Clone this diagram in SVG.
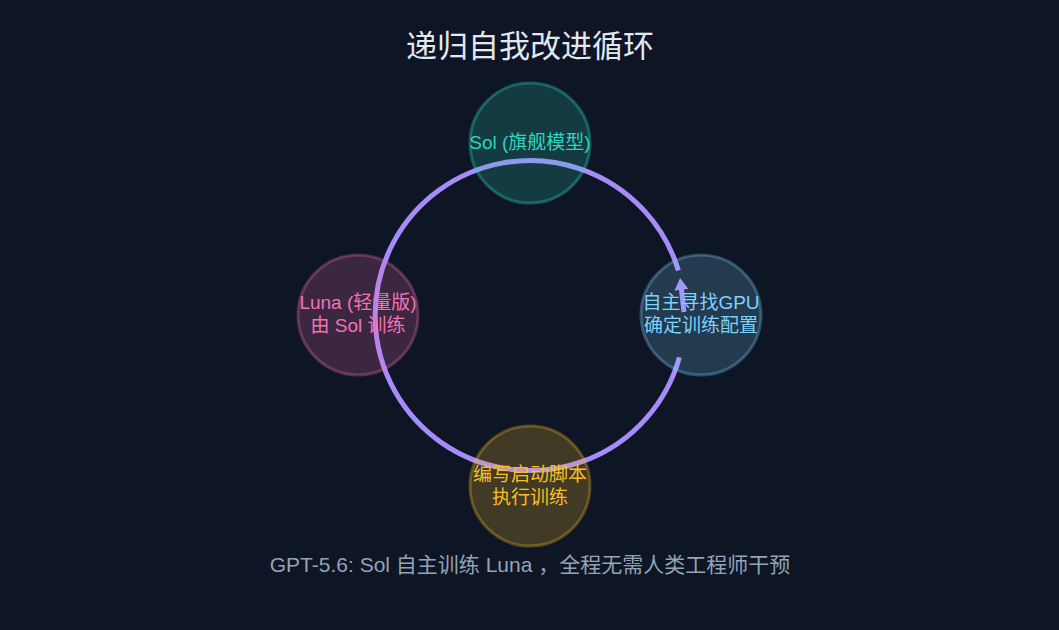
<svg xmlns="http://www.w3.org/2000/svg" width="1059" height="630" viewBox="0 0 1059 630">
<style>
text{font-family:"Liberation Sans","Noto Sans CJK SC",sans-serif;text-anchor:middle}
.t{font-size:31px;fill:#e2e8f0}
.s{font-size:21px;fill:#94a3b8}
.n{font-size:19px}
.c{stroke-width:3}
</style>
<defs>
<marker id="ah" markerWidth="12" markerHeight="14" refX="4" refY="7" orient="auto" markerUnits="userSpaceOnUse" viewBox="0 0 12 14">
<path d="M0,0 L12,7 L0,14 z" fill="#a78bfa"/>
</marker>
</defs>
<rect width="1059" height="630" fill="#0e1524"/>
<text class="t" x="530" y="57">递归自我改进循环</text>
<g id="connectors" fill="none" stroke="#a78bfa" stroke-width="5">
<path d="M678.4,270.4 A155,155 0 1 0 679.4,357.3"/>
<path d="M684,312 L681,286" marker-end="url(#ah)"/>
</g>
<g id="sol">
<circle class="c" cx="530" cy="143" r="60" fill="#2dd4bf" fill-opacity="0.2" stroke="#2dd4bf" stroke-opacity="0.35"/>
<text class="n" x="530" y="149" fill="#2dd4bf">Sol (旗舰模型)</text>
</g>
<g id="gpu">
<circle class="c" cx="701" cy="315" r="60" fill="#7dd3fc" fill-opacity="0.2" stroke="#7dd3fc" stroke-opacity="0.3"/>
<text class="n" x="701" y="309" fill="#7dd3fc">自主寻找GPU</text>
<text class="n" x="701" y="332" fill="#7dd3fc">确定训练配置</text>
</g>
<g id="script">
<circle class="c" cx="530" cy="486" r="60" fill="#fbbf24" fill-opacity="0.22" stroke="#fbbf24" stroke-opacity="0.3"/>
<text class="n" x="530" y="481" fill="#fbbf24">编写启动脚本</text>
<text class="n" x="530" y="504" fill="#fbbf24">执行训练</text>
</g>
<g id="luna">
<circle class="c" cx="358" cy="315" r="60" fill="#f472b6" fill-opacity="0.2" stroke="#f472b6" stroke-opacity="0.3"/>
<text class="n" x="358" y="309" fill="#f472b6">Luna (轻量版)</text>
<text class="n" x="358" y="332" fill="#f472b6">由 Sol 训练</text>
</g>
<text class="s" x="530" y="572">GPT-5.6: Sol 自主训练 Luna ，全程无需人类工程师干预</text>
</svg>
